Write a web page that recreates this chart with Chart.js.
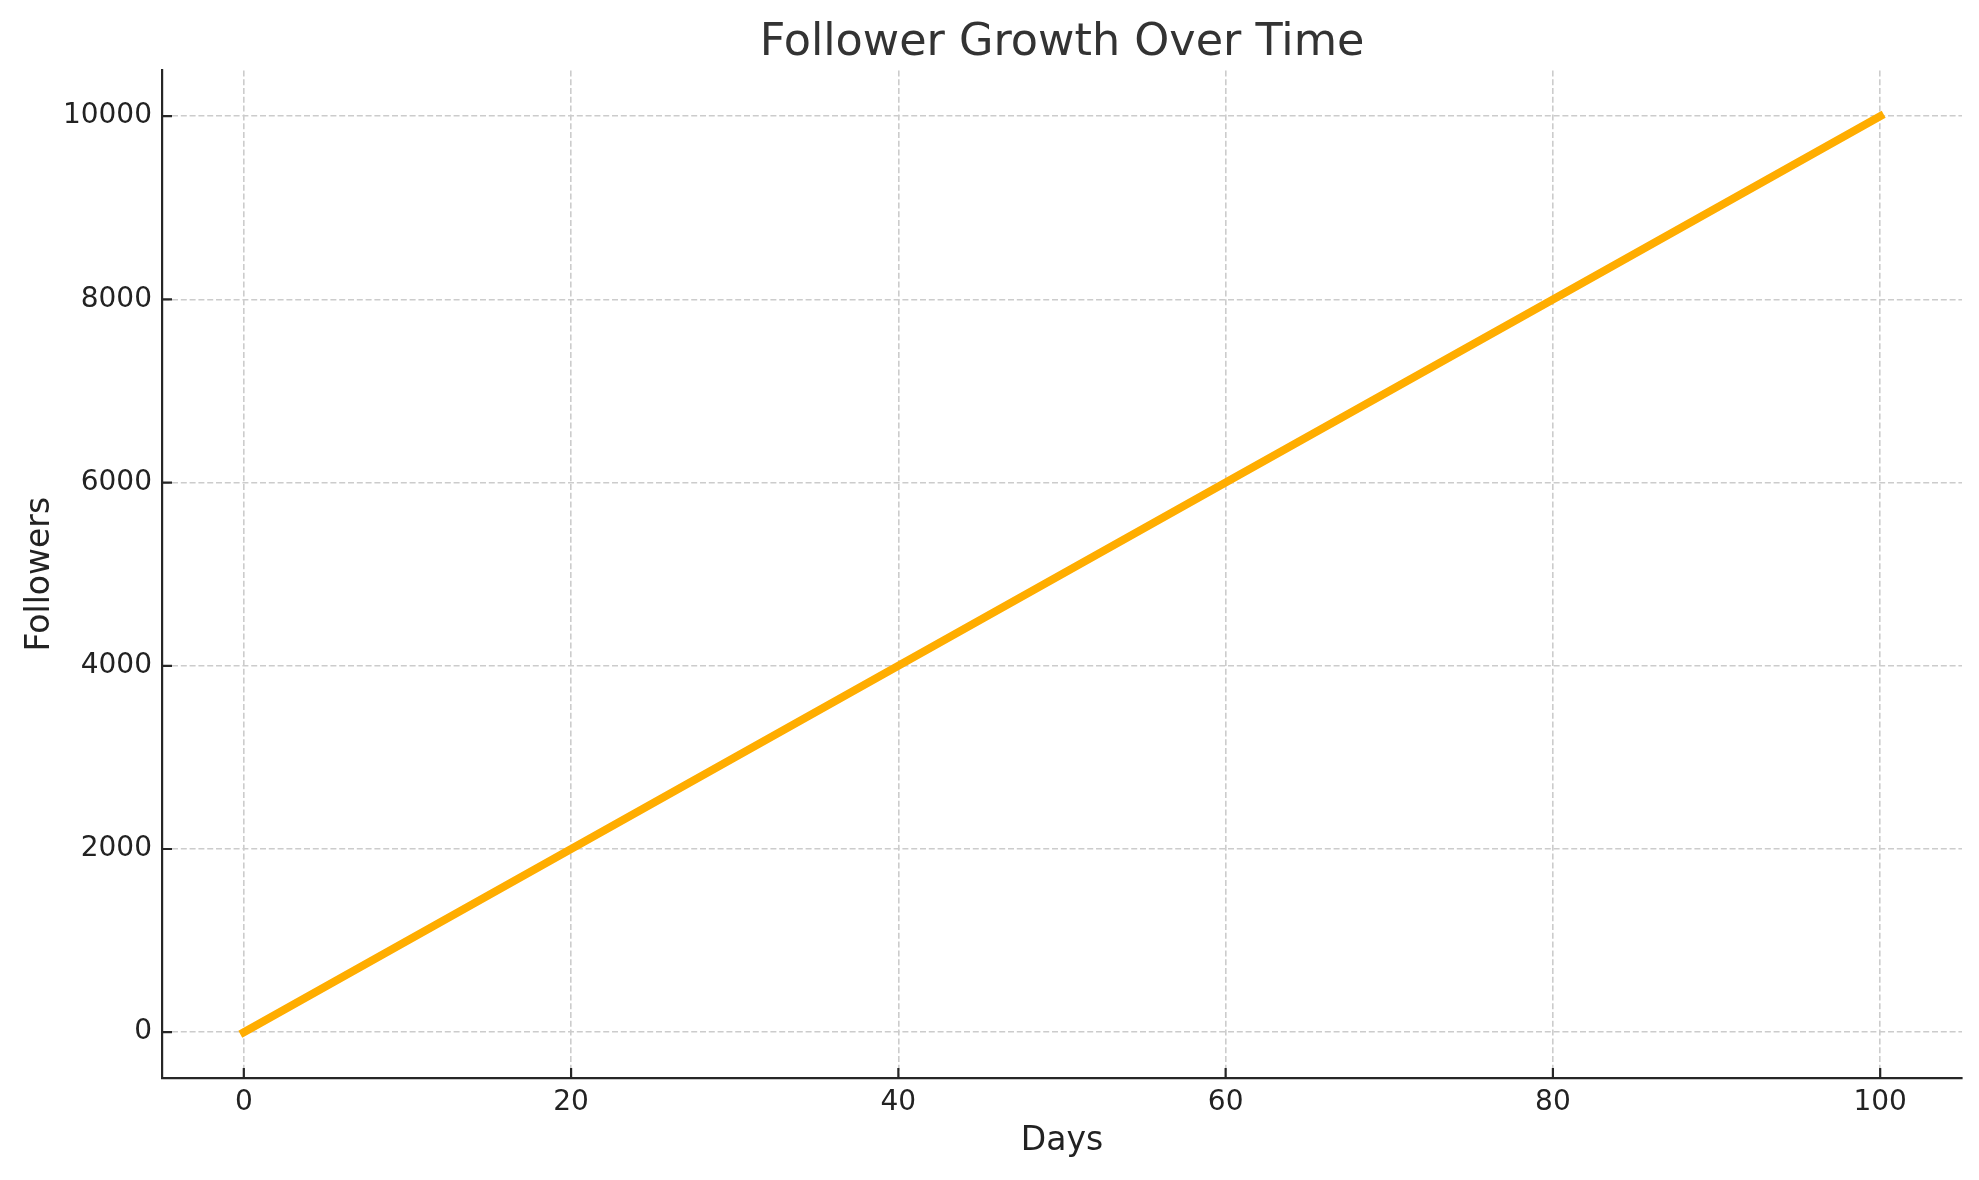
<!DOCTYPE html>
<html>
<head>
<meta charset="utf-8">
<title>Follower Growth Over Time</title>
<script src="https://cdn.jsdelivr.net/npm/chart.js@4/dist/chart.umd.min.js"></script>
<style>
    html, body { margin: 0; padding: 0; background: #fff; }
    canvas { display: block; }
</style>
</head>
<body>
<canvas id="growthChart" width="1979" height="1180"></canvas>
<script>
// values
const days      = [0, 20, 40, 60, 80, 100];
const followers = [0, 2000, 4000, 6000, 8000, 10000];
const xTicks    = [0, 20, 40, 60, 80, 100];
const yTicks    = [0, 2000, 4000, 6000, 8000, 10000];

const FONT = "'DejaVu Sans', 'Liberation Sans', sans-serif";
const SPINE = "#262626";

// matplotlib style ticks that point into the plot
const innerTicks = {
    id: "innerTicks",
    afterDatasetsDraw(chart) {
        const ctx = chart.ctx;
        const area = chart.chartArea;
        const x = chart.scales.x, y = chart.scales.y;
        ctx.save();
        ctx.strokeStyle = SPINE;
        ctx.lineWidth = 2.2;
        ctx.beginPath();
        xTicks.forEach(v => {
            const px = x.getPixelForValue(v);
            ctx.moveTo(px, area.bottom);
            ctx.lineTo(px, area.bottom - 10);
        });
        yTicks.forEach(v => {
            const py = y.getPixelForValue(v);
            ctx.moveTo(area.left, py);
            ctx.lineTo(area.left + 10, py);
        });
        ctx.stroke();
        ctx.restore();
    }
};

const points = days.map((d, i) => ({ x: d, y: followers[i] }));

new Chart(document.getElementById("growthChart"), {
    type: "line",
    data: {
        datasets: [{
            label: "Followers",
            data: points,
            borderColor: "#FFAD00",
            borderWidth: 8,
            borderCapStyle: "square",
            pointRadius: 0,
            tension: 0
        }]
    },
    options: {
        responsive: false,
        animation: false,
        devicePixelRatio: 1,
        layout: { padding: { left: 0, right: 17, top: 0, bottom: 0 } },
        plugins: {
            legend: { display: false },
            tooltip: { enabled: false },
            title: {
                display: true,
                text: "Follower Growth Over Time",
                fullSize: false,
                color: "#333333",
                font: { family: FONT, size: 44.5, weight: "normal" },
                padding: { top: 17, bottom: 0 }
            }
        },
        scales: {
            x: {
                type: "linear",
                min: -5,
                max: 105,
                afterBuildTicks: s => { s.ticks = xTicks.map(v => ({ value: v })); },
                afterFit: s => { s.height = 102; s.paddingLeft = 0; s.paddingRight = 0; },
                ticks: {
                    color: "#222222",
                    padding: 8,
                    maxRotation: 0,
                    font: { family: FONT, size: 28 },
                    callback: v => String(v)
                },
                grid: {
                    color: "#cccccc",
                    lineWidth: 1.6,
                    drawTicks: false
                },
                border: { display: true, color: SPINE, width: 2.2, dash: [6, 2.8] },
                title: {
                    display: true,
                    text: "Days",
                    color: "#222222",
                    font: { family: FONT, size: 33 },
                    padding: { top: 0, bottom: 19 }
                }
            },
            y: {
                type: "linear",
                min: -500,
                max: 10500,
                afterBuildTicks: s => { s.ticks = yTicks.map(v => ({ value: v })); },
                afterFit: s => { s.width = 162; s.paddingTop = 0; s.paddingBottom = 0; },
                ticks: {
                    color: "#222222",
                    padding: 10,
                    font: { family: FONT, size: 28 },
                    callback: v => String(v)
                },
                grid: {
                    color: "#cccccc",
                    lineWidth: 1.6,
                    drawTicks: false
                },
                border: { display: true, color: SPINE, width: 2.2, dash: [6, 2.8] },
                title: {
                    display: true,
                    text: "Followers",
                    color: "#222222",
                    font: { family: FONT, size: 33 },
                    padding: { top: 21, bottom: 0 }
                }
            }
        }
    },
    plugins: [innerTicks]
});
</script>
</body>
</html>
